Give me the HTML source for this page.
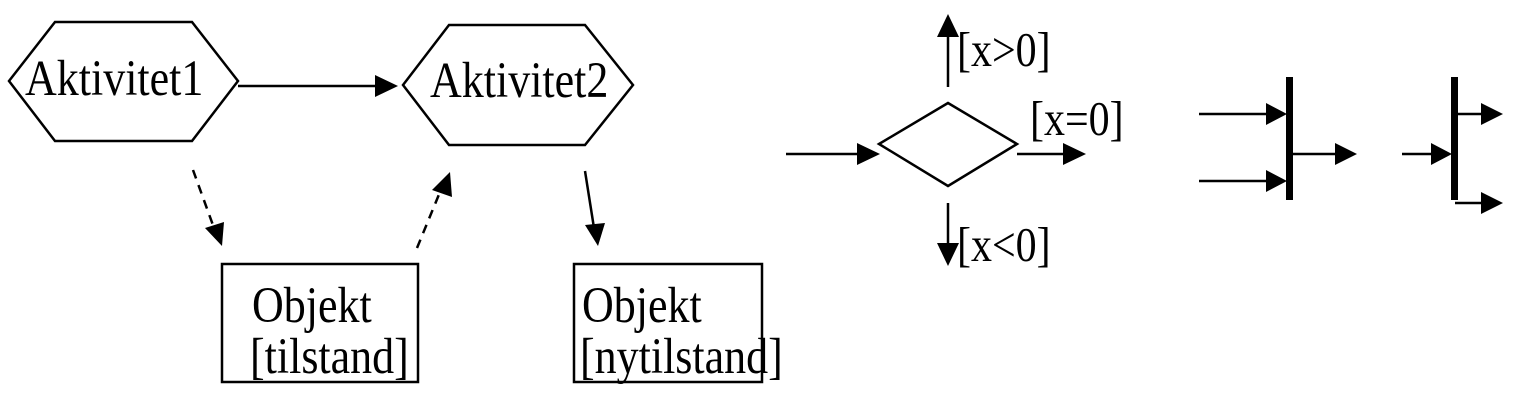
<!DOCTYPE html>
<html><head><style>
html,body{margin:0;padding:0;background:#fff;width:1536px;height:407px;overflow:hidden}
text{font-family:"Liberation Serif",serif;fill:#000}
</style></head><body>
<svg width="1536" height="407" viewBox="0 0 1536 407" xmlns="http://www.w3.org/2000/svg">
<g fill="none" stroke="#000" stroke-width="2.5">
<polygon points="9,81 55,22 192,22 238,81 192,141 55,141"/>
<polygon points="403,85 449,25 585,25 633,85 585,145 449,145"/>
<rect x="222" y="264" width="196" height="118"/>
<rect x="574" y="264" width="188" height="118"/>
<polygon points="879,144 948,103 1017,144 948,186"/>
</g>
<g fill="#000">
<line x1="238" y1="86" x2="378" y2="86" stroke="#000" stroke-width="2.5"/>
<polygon points="398,86 375,75 375,97"/>
<line x1="193" y1="170" x2="214" y2="228" stroke="#000" stroke-width="2.5" stroke-dasharray="9,7"/>
<polygon points="222,246 205,228 224,222"/>
<line x1="417" y1="248" x2="440" y2="192" stroke="#000" stroke-width="2.5" stroke-dasharray="9,7"/>
<polygon points="450,172 452,197 432,190"/>
<line x1="585" y1="171" x2="594" y2="228" stroke="#000" stroke-width="2.5"/>
<polygon points="598,246 585,225 605,223"/>
<line x1="786" y1="154" x2="860" y2="154" stroke="#000" stroke-width="2.5"/>
<polygon points="880,154 857,143 857,165"/>
<line x1="948" y1="87" x2="948" y2="33" stroke="#000" stroke-width="2.5"/>
<polygon points="948,14 937,37 959,37"/>
<line x1="1017" y1="154" x2="1066" y2="154" stroke="#000" stroke-width="2.5"/>
<polygon points="1086,154 1063,143 1063,165"/>
<line x1="948" y1="203" x2="948" y2="246" stroke="#000" stroke-width="2.5"/>
<polygon points="948,266 937,243 959,243"/>
<rect x="1286" y="77" width="7" height="123"/>
<line x1="1199" y1="114" x2="1268" y2="114" stroke="#000" stroke-width="2.5"/>
<polygon points="1287,114 1266,103 1266,125"/>
<line x1="1199" y1="181" x2="1268" y2="181" stroke="#000" stroke-width="2.5"/>
<polygon points="1287,181 1266,170 1266,192"/>
<line x1="1293" y1="154" x2="1338" y2="154" stroke="#000" stroke-width="2.5"/>
<polygon points="1357,154 1335,143 1335,165"/>
<rect x="1451" y="77" width="7" height="123"/>
<line x1="1402" y1="154" x2="1434" y2="154" stroke="#000" stroke-width="2.5"/>
<polygon points="1452,154 1431,143 1431,165"/>
<line x1="1458" y1="114" x2="1484" y2="114" stroke="#000" stroke-width="2.5"/>
<polygon points="1503,114 1481,103 1481,125"/>
<line x1="1455" y1="203" x2="1484" y2="203" stroke="#000" stroke-width="2.5"/>
<polygon points="1503,203 1481,192 1481,214"/>
</g>
<g transform="translate(25,95) scale(1,1.15)"><text font-size="44">Aktivitet1</text></g>
<g transform="translate(430,97) scale(1,1.15)"><text font-size="44">Aktivitet2</text></g>
<g transform="translate(252,322) scale(1,1.15)"><text font-size="44">Objekt</text></g>
<g transform="translate(250,373) scale(1,1.15)"><text font-size="44">[tilstand]</text></g>
<g transform="translate(582,322) scale(1,1.15)"><text font-size="44">Objekt</text></g>
<g transform="translate(580,373) scale(1,1.15)"><text font-size="44">[nytilstand]</text></g>
<g transform="translate(957,66) scale(1,1.15)"><text font-size="42">[x&gt;0]</text></g>
<g transform="translate(1030,135) scale(1,1.15)"><text font-size="42">[x=0]</text></g>
<g transform="translate(957,261) scale(1,1.15)"><text font-size="42">[x&lt;0]</text></g>
</svg>
</body></html>
